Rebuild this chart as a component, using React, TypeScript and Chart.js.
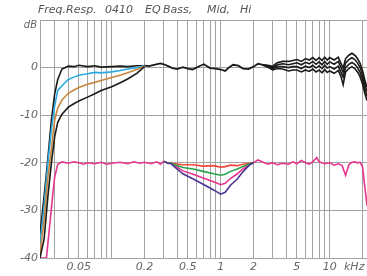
import React, { useEffect, useRef } from "react";
import { Chart, registerables } from "chart.js";

Chart.register(...registerables);

// ---- Data (frequencies in kHz, levels in dB) ----
const bassFreq = [0.022, 0.024, 0.026, 0.028, 0.03, 0.032, 0.035, 0.04, 0.045, 0.05, 0.06, 0.07, 0.08, 0.1, 0.12, 0.14, 0.17, 0.2];
const bassTop = [-35, -27, -19, -11, -5.5, -2.5, -0.3, 0.3, 0.2, 0.5, 0.2, 0.4, 0.1, 0.2, 0.3, 0.2, 0.4, 0.4];
const bassBlue = [-37, -29, -20, -13, -8, -4.8, -3.8, -2.5, -2.0, -1.6, -1.3, -1.0, -1.1, -0.9, -0.6, -0.3, 0.0, 0.4];
const bassOrange = [-39, -32, -23, -17, -11, -8.5, -6.8, -5.4, -4.7, -4.2, -3.5, -3.1, -2.7, -2.1, -1.6, -1.1, -0.4, 0.3];
const bassBottom = [-40, -36, -27, -20, -14.5, -11.5, -9.8, -8.3, -7.6, -7.0, -6.2, -5.5, -4.8, -4.0, -3.2, -2.4, -1.2, 0.2];

const commonFreq = [0.2, 0.22, 0.25, 0.28, 0.3, 0.33, 0.36, 0.4, 0.45, 0.5, 0.55, 0.6, 0.65, 0.7, 0.75, 0.8, 0.9, 1.0, 1.1, 1.2, 1.3, 1.45, 1.6, 1.8, 2.0, 2.2, 2.4];
const commonTop = [0.4, 0.3, 0.6, 0.9, 0.7, 0.3, -0.1, -0.3, 0.1, -0.2, -0.4, 0.0, 0.4, 0.7, 0.3, -0.1, -0.2, -0.4, -0.7, 0.1, 0.6, 0.4, -0.2, -0.3, 0.2, 0.8, 0.6];

const hiFreq = [2.4, 2.7, 3.0, 3.3, 3.7, 4.2, 4.6, 5.0, 5.5, 6.0, 6.5, 7.0, 7.5, 8.0, 8.5, 9.0, 9.5, 10, 11, 12, 12.7, 13.3, 14, 15, 16, 17, 18, 19, 20, 21, 22];
const hi1 = [0.6, 0.5, 0.3, 1.0, 1.3, 1.3, 1.5, 1.7, 1.3, 1.9, 1.6, 2.1, 1.5, 2.1, 1.5, 2.2, 1.6, 2.1, 1.6, 2.2, 0.9, -0.1, 1.9, 2.6, 3.0, 2.6, 1.9, 0.9, -0.6, -2.6, -4.1];
const hi2 = [0.6, 0.4, 0.0, 0.6, 0.8, 0.6, 0.8, 1.0, 0.6, 1.1, 0.8, 1.3, 0.7, 1.2, 0.6, 1.3, 0.7, 1.2, 0.7, 1.3, 0.0, -1.0, 1.0, 1.7, 2.1, 1.7, 1.0, 0.0, -1.5, -3.5, -5.0];
const hi3 = [0.6, 0.2, -0.2, 0.2, 0.2, 0.0, 0.2, 0.2, -0.2, 0.3, 0.0, 0.5, -0.1, 0.4, -0.2, 0.5, -0.1, 0.2, -0.3, 0.3, -1.0, -2.0, 0.0, 0.7, 1.1, 0.7, 0.0, -1.0, -2.5, -4.5, -6.0];
const hi4 = [0.6, 0.1, -0.5, -0.2, -0.3, -0.7, -0.5, -0.5, -0.9, -0.5, -0.8, -0.3, -0.9, -0.5, -1.1, -0.4, -1.0, -0.7, -1.2, -0.6, -1.9, -3.6, -0.9, -0.2, 0.2, -0.2, -0.9, -1.9, -3.4, -5.4, -6.9];

const midFreq = [0.022, 0.0252, 0.029, 0.03, 0.032, 0.035, 0.04, 0.045, 0.05, 0.055, 0.06, 0.07, 0.08, 0.09, 0.1, 0.12, 0.14, 0.16, 0.18, 0.2, 0.23, 0.26, 0.28, 0.3, 0.33, 0.35, 0.38, 0.45, 0.56, 0.69, 0.86, 1.0, 1.1, 1.23, 1.42, 1.6, 1.85, 2.0, 2.2, 2.4, 2.7, 3.0, 3.3, 3.7, 4.2, 4.6, 5.0, 5.5, 6.0, 6.5, 7.0, 7.6, 8.0, 9.0, 10, 11, 12, 13, 14, 15, 16, 17, 18, 19, 20, 21, 22];
const midMagenta = [-40, -40, -26, -23, -20.3, -19.8, -20.1, -19.8, -20.0, -20.3, -20.0, -20.2, -19.9, -20.3, -20.1, -19.9, -20.2, -19.8, -20.1, -19.9, -20.2, -19.8, -20.3, -19.7, -20.1, -20.1, -20.6, -21.7, -22.4, -23.2, -24.0, -24.6, -24.3, -23.3, -22.3, -21.3, -20.3, -20.0, -19.4, -19.8, -20.3, -20.0, -20.4, -20.1, -20.3, -19.8, -20.2, -19.5, -20.0, -20.3, -19.8, -18.9, -19.8, -20.2, -20.0, -20.5, -20.2, -20.6, -22.6, -20.4, -19.9, -19.8, -20.0, -19.9, -20.8, -25, -29];

const dipFreq = [0.3, 0.33, 0.35, 0.38, 0.45, 0.56, 0.69, 0.86, 1.0, 1.1, 1.23, 1.42, 1.6, 1.85, 2.0];
const dipRed = [-19.7, -20.1, -20.1, -20.2, -20.4, -20.4, -20.7, -20.6, -20.9, -20.8, -20.5, -20.6, -20.3, -20.1, -20.0];
const dipGreen = [-19.7, -20.1, -20.1, -20.4, -21.0, -21.3, -21.8, -22.3, -22.6, -22.4, -21.8, -21.3, -20.8, -20.2, -20.0];
const dipPurple = [-19.7, -20.1, -20.2, -20.9, -22.3, -23.4, -24.5, -25.7, -26.6, -26.2, -24.7, -23.4, -21.9, -20.4, -20.0];

const xGridTicks = [0.03, 0.04, 0.05, 0.06, 0.07, 0.08, 0.09, 0.1, 0.2, 0.3, 0.4, 0.5, 0.6, 0.7, 0.8, 0.9, 1, 2, 3, 4, 5, 6, 7, 8, 9, 10, 20];
const xLabelTicks = [0.05, 0.2, 0.5, 1, 2, 5, 10];
const xLabelText = ["0.05", "0.2", "0.5", "1", "2", "5", "10"];
const yTicks = [-40, -30, -20, -10, 0, 10];

const TITLE_PARTS: [string, number][] = [
  ["Freq.Resp.", 38],
  ["0410", 105],
  ["EQ", 145],
  ["Bass,", 163],
  ["Mid,", 207],
  ["Hi", 240],
];

function pts(xs: number[], ys: number[]) {
  return xs.map((x, i) => ({ x, y: ys[i] }));
}

const BLACK = "#1c1a18";

export default function App() {
  const ref = useRef<HTMLCanvasElement>(null);
  useEffect(() => {
    if (!ref.current) return;
    const line = (data: any, color: string, w = 1.6) => ({
      data,
      borderColor: color,
      backgroundColor: color,
      borderWidth: w,
      pointRadius: 0,
      tension: 0,
      fill: false,
    });
    const textPlugin = {
      id: "texts",
      afterDraw(chart: any) {
        const ctx = chart.ctx;
        ctx.save();
        ctx.fillStyle = "#555";
        ctx.textBaseline = "middle";
        ctx.font = 'italic 11px "DejaVu Sans"';
        TITLE_PARTS.forEach(([t, x]) => ctx.fillText(t, x, 10));
        ctx.font = 'italic 10px "DejaVu Sans"';
        ctx.fillStyle = "#666";
        ctx.textAlign = "right";
        ctx.fillText("dB", 37, 25);
        ctx.textAlign = "left";
        ctx.font = 'italic 11px "DejaVu Sans"';
        ctx.fillText("kHz", 344, 267);
        ctx.restore();
      },
    };
    const chart = new Chart(ref.current, {
      type: "line",
      data: {
        datasets: [
          line(pts(bassFreq, bassBottom), BLACK),
          line(pts(bassFreq, bassOrange), "#c8863c"),
          line(pts(bassFreq, bassBlue), "#2aa9e2"),
          line(pts(bassFreq, bassTop), BLACK),
          line(pts(commonFreq, commonTop), BLACK, 1.8),
          line(pts(hiFreq, hi4), BLACK),
          line(pts(hiFreq, hi3), BLACK),
          line(pts(hiFreq, hi2), BLACK),
          line(pts(hiFreq, hi1), BLACK),
          line(pts(dipFreq, dipPurple), "#4b3493"),
          line(pts(dipFreq, dipGreen), "#27a34a"),
          line(pts(dipFreq, dipRed), "#f0483a"),
          line(pts(midFreq, midMagenta), "#e6358c"),
        ],
      },
      options: {
        responsive: false,
        animation: false,
        devicePixelRatio: 1,
        layout: { padding: { top: 20, left: 0, right: 0, bottom: 0 }, autoPadding: false } as any,
        plugins: { legend: { display: false }, tooltip: { enabled: false }, title: { display: false } },
        scales: {
          x: {
            type: "logarithmic",
            min: 0.022,
            max: 22,
            afterBuildTicks: (s: any) => {
              s.ticks = xGridTicks.map((v) => ({ value: v }));
            },
            afterFit: (s: any) => {
              s.height = 18;
            },
            grid: { color: "#a3a3a3", lineWidth: 1, drawTicks: false },
            border: { display: true, color: "#a3a3a3" },
            ticks: {
              autoSkip: false,
              maxRotation: 0,
              padding: 3,
              color: "#666",
              font: { family: "DejaVu Sans", size: 11, style: "italic" },
              callback: (v: any) => {
                const i = xLabelTicks.indexOf(Number(v));
                return i >= 0 ? xLabelText[i] : "";
              },
            },
          },
          y: {
            type: "linear",
            min: -40,
            max: 10,
            afterBuildTicks: (s: any) => {
              s.ticks = yTicks.map((v) => ({ value: v }));
            },
            afterFit: (s: any) => {
              s.width = 40;
            },
            grid: { color: "#a3a3a3", lineWidth: 1, drawTicks: false },
            border: { display: true, color: "#a3a3a3" },
            ticks: {
              padding: 2,
              color: "#666",
              font: { family: "DejaVu Sans", size: 11, style: "italic" },
              callback: (v: any) => (Number(v) === 10 ? "" : String(v)),
            },
          },
        },
      },
      plugins: [textPlugin],
    });
    return () => chart.destroy();
  }, []);
  return (
    <div style={{ position: "fixed", left: 0, top: 0, width: 367, height: 276, background: "#fff" }}>
      <canvas ref={ref} width={367} height={276} style={{ display: "block" }} />
    </div>
  );
}
